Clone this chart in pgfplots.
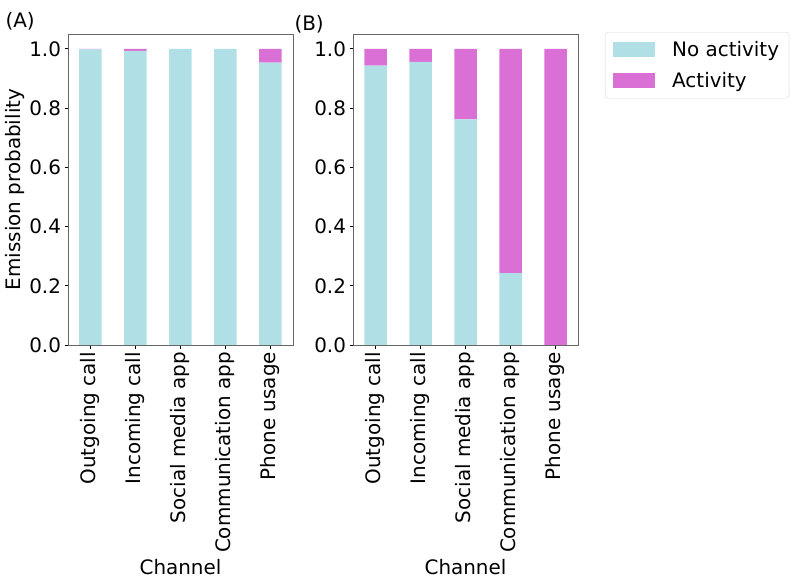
\documentclass[border=0pt]{standalone}
\usepackage{fontspec}
\setmainfont{DejaVu Sans}
\usepackage{pgfplots}
\pgfplotsset{compat=1.18}
\definecolor{noact}{HTML}{B0E0E6}
\definecolor{act}{HTML}{DA70D6}
\newcommand{\fs}{\fontsize{20}{24}\selectfont}
\begin{document}
\begin{tikzpicture}
\useasboundingbox (0bp,0bp) rectangle (800bp,583bp);
\pgfplotsset{
  mystyle/.style={
    scale only axis, width=225bp, height=311bp,
    ybar stacked, bar width=22.5bp,
    xmin=-0.5, xmax=4.5, ymin=0, ymax=1.05,
    xtick={0,1,2,3,4},
    xticklabels={Outgoing call, Incoming call, Social media app, Communication app, Phone usage},
    xticklabel style={rotate=90, anchor=east, font=\fs},
    ytick={0,0.2,0.4,0.6,0.8,1.0},
    yticklabel style={font=\fs, /pgf/number format/.cd, fixed, fixed zerofill, precision=1},
    /pgf/number format/assume math mode=true,
    tick align=outside, major tick length=3.5bp,
    xtick pos=bottom, ytick pos=left,
    tick style={black, line width=0.8bp},
    axis line style={black!60, line width=0.9bp},
    axis on top,
    label style={font=\fs},
    xlabel={Channel},
  }
}
\begin{axis}[mystyle, at={(68bp,238bp)}, anchor=south west, ylabel={Emission probability},
  ylabel style={at={(axis description cs:-0.2356,0.5)}, anchor=center}]
\addplot[fill=noact, draw=none] coordinates {(0,0.998) (1,0.993) (2,1.0) (3,1.0) (4,0.953)};
\addplot[fill=act, draw=none] coordinates {(0,0.002) (1,0.007) (2,0.0) (3,0.0) (4,0.047)};
\end{axis}
\begin{axis}[mystyle, at={(353bp,238bp)}, anchor=south west,
  legend style={at={(axis description cs:1.12,1.0064)}, anchor=north west, draw=black!15, rounded corners=3bp, font=\fs, inner sep=2bp, row sep=0pt, column sep=0pt, nodes={inner sep=0pt, sharp corners}, cells={anchor=west}},
  legend image code/.code={\path[fill=none, draw=none] (0bp,-15.5bp) rectangle (65bp,15.5bp); \fill[#1, sharp corners] (6bp,-7.5bp) rectangle (48bp,7.5bp);},
  legend cell align=left]
\addplot[fill=noact, draw=none] coordinates {(0,0.943) (1,0.956) (2,0.762) (3,0.243) (4,0.0)};
\addlegendentry{No activity\rule{8bp}{0pt}}
\addplot[fill=act, draw=none] coordinates {(0,0.057) (1,0.044) (2,0.238) (3,0.757) (4,1.0)};
\addlegendentry{Activity}
\end{axis}
\node[anchor=west, font=\fs] at (2bp,562bp) {(A)};
\node[anchor=west, font=\fs] at (291bp,559bp) {(B)};
\end{tikzpicture}
\end{document}
